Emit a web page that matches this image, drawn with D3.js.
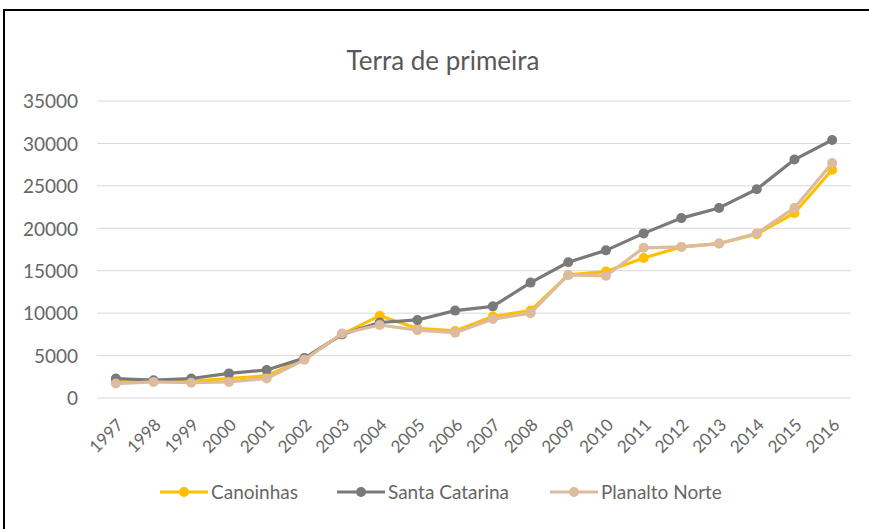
<!DOCTYPE html>
<html>
<head>
<meta charset="utf-8">
<script src="https://cdn.jsdelivr.net/npm/d3@7"></script>
<style>
  body { margin: 0; background: #fff; }
  svg { display: block; font-family: Lato, "Open Sans", sans-serif; }
</style>
</head>
<body>
<div id="visContainer"></div>
<script>
'use strict';

// data
var years = ['1997','1998','1999','2000','2001','2002','2003','2004','2005','2006',
             '2007','2008','2009','2010','2011','2012','2013','2014','2015','2016'];
var canoinhas = [2000,2000,2000,2300,2600,4600,7500,9700,8200,7900,
                 9600,10300,14500,14900,16500,17800,18200,19300,21800,26900];
var santaCatarina = [2300,2100,2300,2900,3300,4700,7500,8900,9200,10300,
                     10800,13600,16000,17400,19400,21200,22400,24600,28100,30400];
var planaltoNorte = [1700,1900,1800,1900,2300,4500,7600,8600,8000,7700,
                     9300,10000,14500,14400,17700,17800,18200,19400,22400,27700];
var yTicks = [0,5000,10000,15000,20000,25000,30000,35000];
var seriesNames = ['Canoinhas','Santa Catarina','Planalto Norte'];
var seriesColors = ['#FFC000','#7A7A7A','#DDBB9E'];

var width = 869, height = 529;
var margin = {top: 101, bottom: 131, left: 97, right: 18};

var svg = d3.select('#visContainer')
  .append('svg')
  .attr('width', width)
  .attr('height', height);

// outer frame (cut off at right and bottom like the screenshot)
svg.append('rect')
  .attr('x', 4).attr('y', 10)
  .attr('width', width + 10).attr('height', height + 10)
  .attr('fill', 'none')
  .attr('stroke', '#000')
  .attr('stroke-width', 2);

svg.append('text')
  .attr('x', 443).attr('y', 70)
  .attr('text-anchor', 'middle')
  .attr('font-size', 26)
  .attr('fill', '#595959')
  .text('Terra de primeira');

var xScale = d3.scalePoint()
  .domain(years)
  .range([margin.left, width - margin.right])
  .padding(0.5);

var yScale = d3.scaleLinear()
  .domain([0, 35000])
  .range([height - margin.bottom, margin.top]);

// gridlines
svg.append('g')
  .selectAll('line')
  .data(yTicks)
  .enter().append('line')
  .attr('x1', margin.left)
  .attr('x2', width - margin.right)
  .attr('y1', function(d){ return yScale(d); })
  .attr('y2', function(d){ return yScale(d); })
  .attr('stroke', '#D9D9D9')
  .attr('stroke-width', 1);

// y axis labels
var yAxis = d3.axisLeft(yScale).tickValues(yTicks).tickFormat(d3.format('d'))
  .tickSize(0).tickPadding(0);
var yg = svg.append('g')
  .attr('transform', 'translate(78,0)')
  .call(yAxis);
yg.select('.domain').remove();
yg.selectAll('text')
  .attr('font-size', 19)
  .attr('font-family', 'Lato, sans-serif')
  .attr('fill', '#666')
  .attr('dy', '0.36em');

// x axis labels, rotated
var xAxis = d3.axisBottom(xScale).tickSize(0).tickPadding(0);
var xg = svg.append('g')
  .attr('transform', 'translate(0,' + (height - margin.bottom) + ')')
  .call(xAxis);
xg.select('.domain').remove();
xg.selectAll('text')
  .attr('font-size', 17)
  .attr('font-family', 'Lato, sans-serif')
  .attr('fill', '#666')
  .attr('text-anchor', 'end')
  .attr('y', 0).attr('dy', 0)
  .attr('transform', 'translate(8,28) rotate(-45)');

var allSeries = [canoinhas, santaCatarina, planaltoNorte];

var line = d3.line()
  .x(function(d, i){ return xScale(years[i]); })
  .y(function(d){ return yScale(d); });

allSeries.forEach(function(values, k){
  var g = svg.append('g');
  g.append('path')
    .datum(values)
    .attr('d', line)
    .attr('fill', 'none')
    .attr('stroke', seriesColors[k])
    .attr('stroke-width', 3.2)
    .attr('stroke-linejoin', 'round');
  g.selectAll('circle')
    .data(values)
    .enter().append('circle')
    .attr('cx', function(d, i){ return xScale(years[i]); })
    .attr('cy', function(d){ return yScale(d); })
    .attr('r', 5)
    .attr('fill', seriesColors[k]);
});

// legend
var legendX = [160, 337, 550];
var legend = svg.append('g');
seriesNames.forEach(function(name, k){
  var lg = legend.append('g').attr('transform', 'translate(' + legendX[k] + ',492)');
  lg.append('line')
    .attr('x1', 0).attr('x2', 48)
    .attr('stroke', seriesColors[k])
    .attr('stroke-width', 3.2);
  lg.append('circle')
    .attr('cx', 24).attr('r', 5)
    .attr('fill', seriesColors[k]);
  lg.append('text')
    .attr('x', 51).attr('dy', '0.35em')
    .attr('font-size', 19)
    .attr('fill', '#666')
    .text(name);
});
</script>
</body>
</html>
